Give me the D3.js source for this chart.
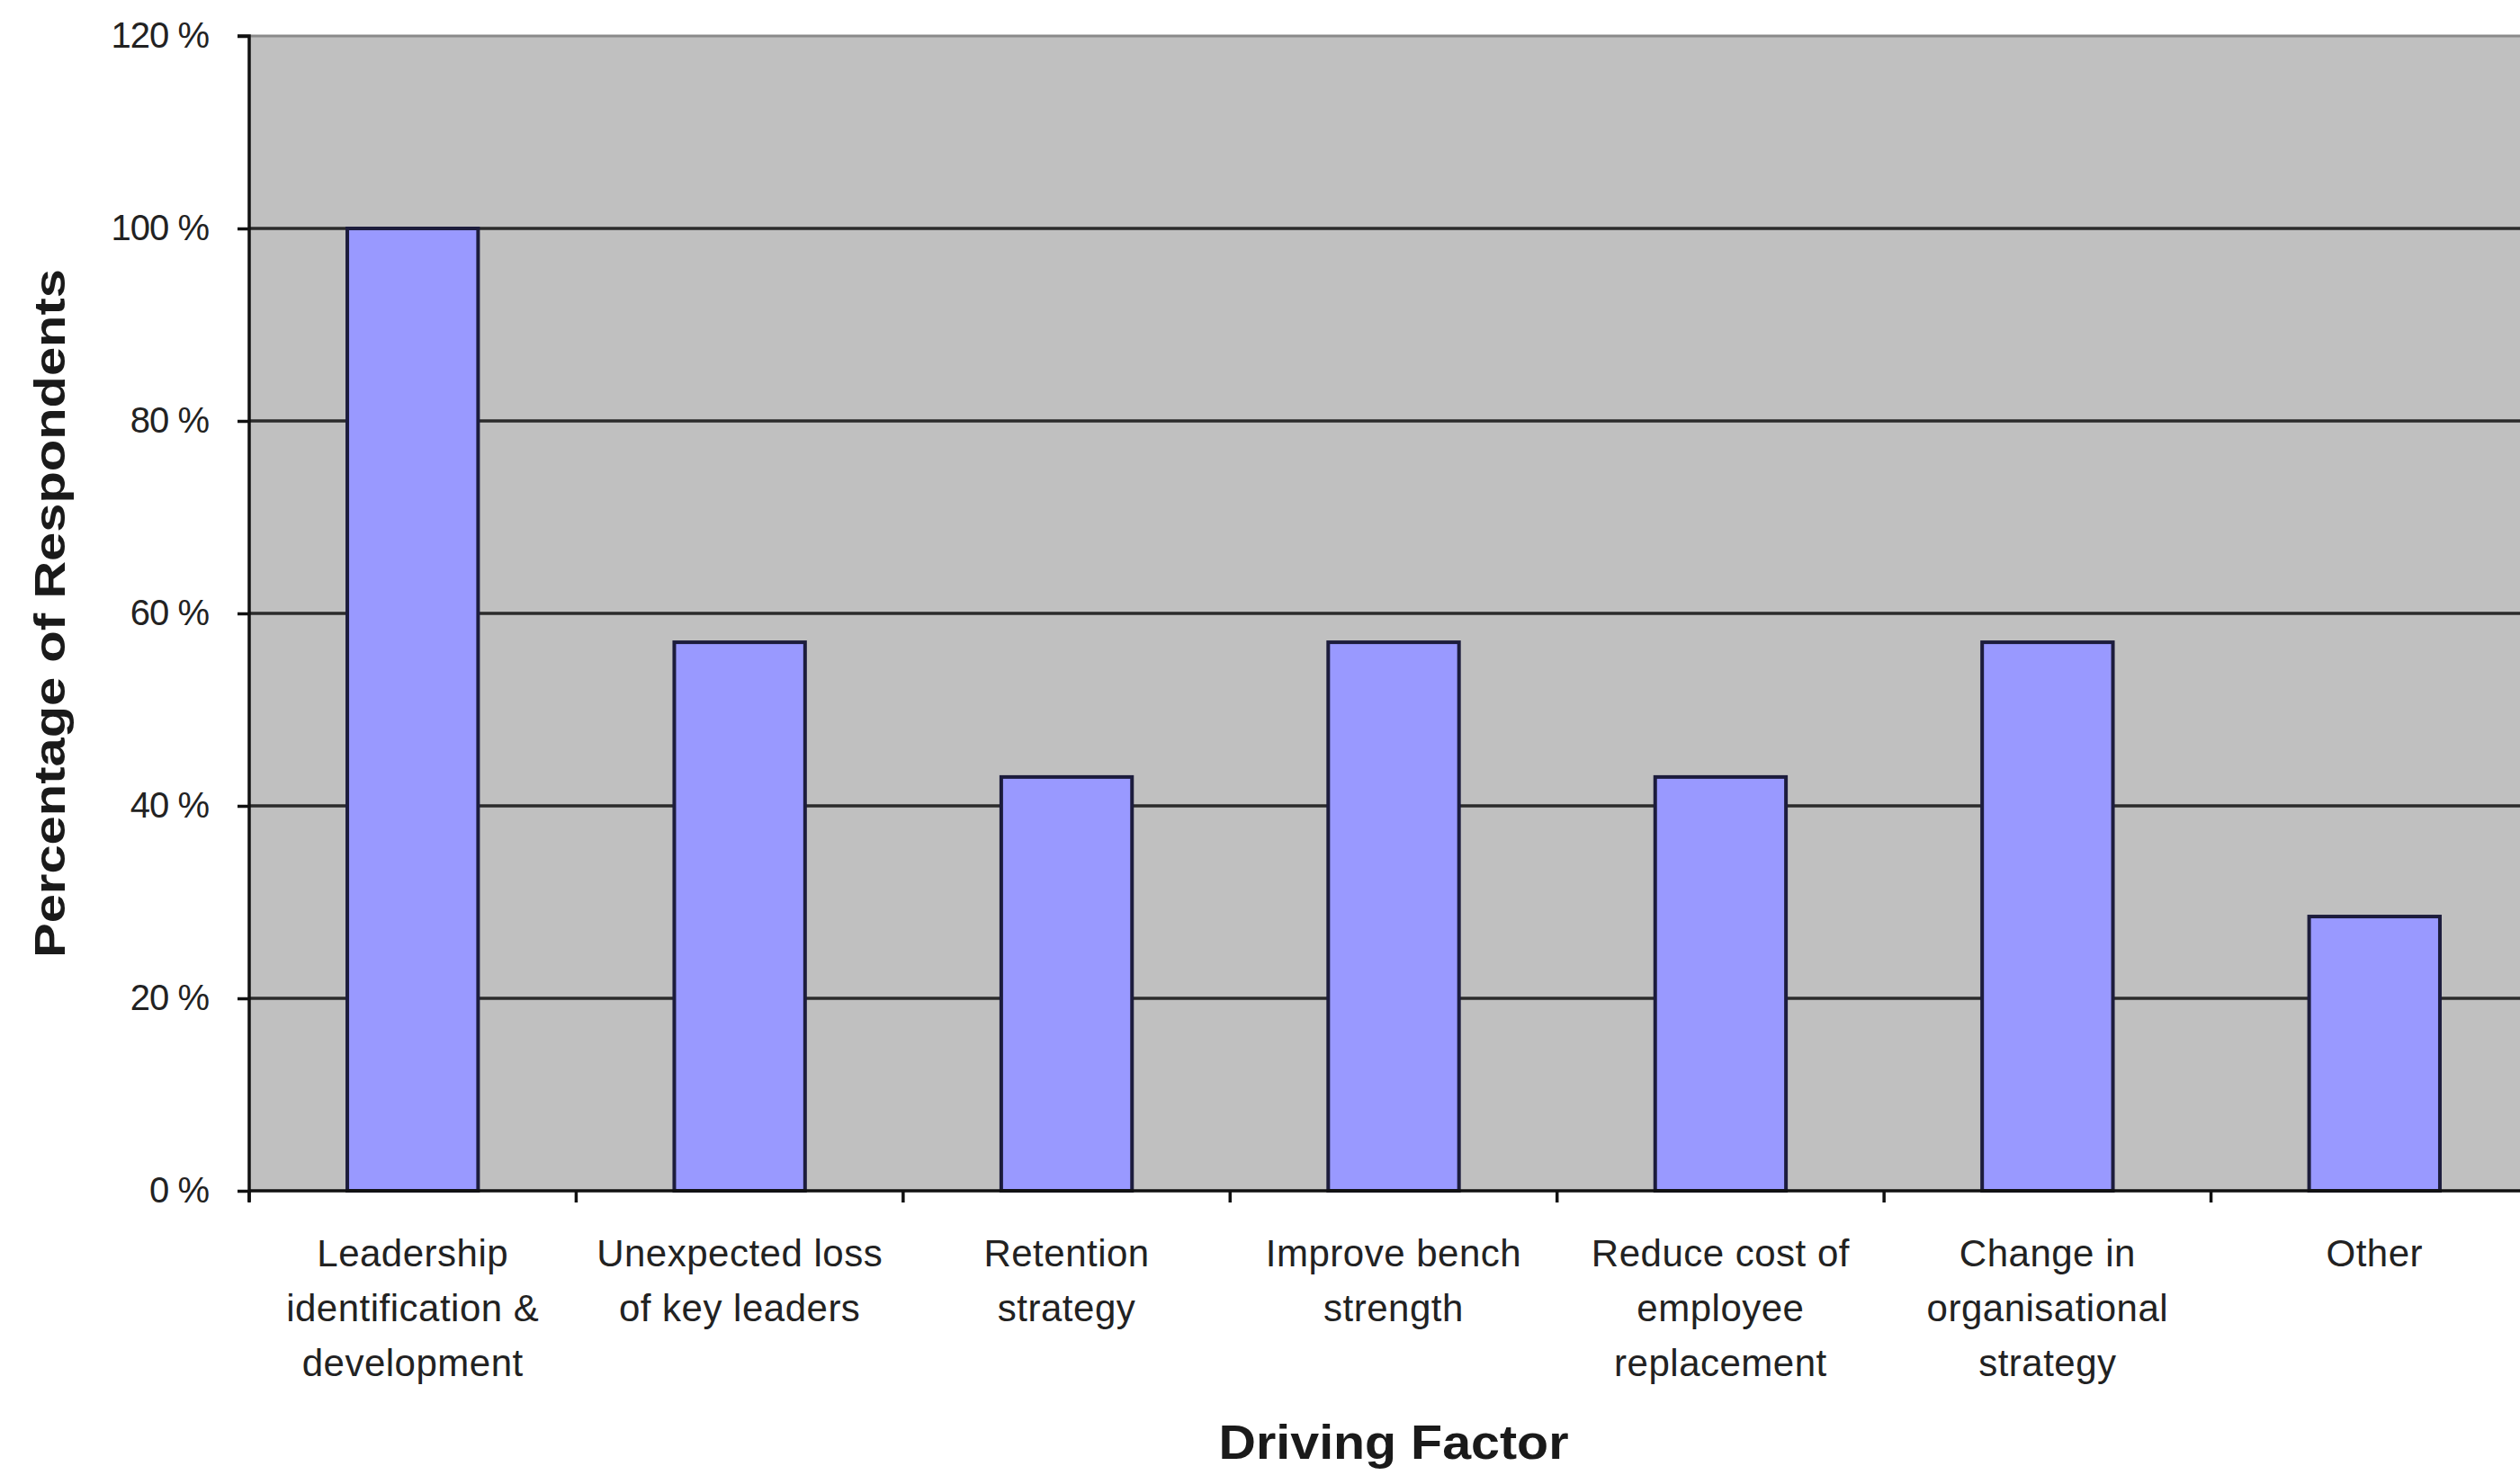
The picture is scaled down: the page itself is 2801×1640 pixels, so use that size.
<!DOCTYPE html>
<html>
<head>
<meta charset="utf-8">
<script src="https://cdn.jsdelivr.net/npm/d3@7"></script>
<style>
  html, body { margin: 0; padding: 0; background: #ffffff; }
  svg { display: block; }
</style>
</head>
<body>
<script>
const categories = [
  ["Leadership", "identification &", "development"],
  ["Unexpected loss", "of key leaders"],
  ["Retention", "strategy"],
  ["Improve bench", "strength"],
  ["Reduce cost of", "employee", "replacement"],
  ["Change in", "organisational", "strategy"],
  ["Other"]
];
const values = [100, 57, 43, 57, 43, 57, 28.5];
const yTicks = [0, 20, 40, 60, 80, 100, 120];
const yTitle = "Percentage of Respondents";
const xTitle = "Driving Factor";

const W = 2801, H = 1640;
const pLeft = 277, pTop = 40, pBottom = 1324, pRight = 2821;

const svg = d3.select("body").append("svg")
  .attr("width", W).attr("height", H)
  .style("font-family", "'Liberation Sans', Arial, sans-serif");

const x = d3.scaleBand()
  .domain(d3.range(categories.length))
  .range([pLeft, pRight])
  .paddingInner(0.6)
  .paddingOuter(0.3);

const y = d3.scaleLinear().domain([0, 120]).range([pBottom, pTop]);

// plot background
svg.append("rect")
  .attr("x", pLeft).attr("y", pTop)
  .attr("width", pRight - pLeft).attr("height", pBottom - pTop)
  .attr("fill", "#c0c0c0");

// top border
svg.append("line")
  .attr("x1", pLeft).attr("x2", pRight)
  .attr("y1", y(120)).attr("y2", y(120))
  .attr("stroke", "#8a8a8a").attr("stroke-width", 3);

// gridlines
svg.append("g")
  .selectAll("line")
  .data(yTicks.filter(d => d > 0 && d < 120))
  .join("line")
  .attr("x1", pLeft).attr("x2", pRight)
  .attr("y1", d => y(d)).attr("y2", d => y(d))
  .attr("stroke", "#2b2b2b").attr("stroke-width", 3.5);

// bars
svg.append("g")
  .selectAll("rect")
  .data(values)
  .join("rect")
  .attr("x", (d, i) => x(i))
  .attr("y", d => y(d))
  .attr("width", x.bandwidth())
  .attr("height", d => pBottom - y(d))
  .attr("fill", "#9999ff")
  .attr("stroke", "#1c1c3c")
  .attr("stroke-width", 4);

// y axis
const yAxis = d3.axisLeft(y)
  .tickValues(yTicks)
  .tickSize(13)
  .tickPadding(32)
  .tickFormat(d => d + " %");
const gy = svg.append("g").attr("transform", `translate(${pLeft},0)`).call(yAxis);
gy.select(".domain").attr("stroke", "#111").attr("stroke-width", 3.5)
  .attr("d", `M-13,${pTop}H0V${pBottom + 12}`);
gy.selectAll(".tick line").attr("stroke", "#111").attr("stroke-width", 3.5);
gy.selectAll(".tick text")
  .attr("font-size", 40)
  .attr("fill", "#222")
  .attr("font-family", "'Liberation Sans', Arial, sans-serif")
  .style("letter-spacing", "-1px");

// x axis (baseline + boundary ticks)
svg.append("line")
  .attr("x1", pLeft).attr("x2", pRight)
  .attr("y1", pBottom).attr("y2", pBottom)
  .attr("stroke", "#111").attr("stroke-width", 3.5);
const boundaries = d3.range(categories.length + 1).map(i => pLeft + i * x.step());
svg.append("g")
  .selectAll("line")
  .data(boundaries)
  .join("line")
  .attr("x1", d => d).attr("x2", d => d)
  .attr("y1", pBottom).attr("y2", pBottom + 13)
  .attr("stroke", "#111").attr("stroke-width", 3.5);

// category labels
const lab = svg.append("g")
  .selectAll("text")
  .data(categories)
  .join("text")
  .attr("text-anchor", "middle")
  .attr("font-size", 42)
  .attr("fill", "#222")
  .style("letter-spacing", "0.5px");
lab.each(function(lines, i) {
  const cx = x(i) + x.bandwidth() / 2;
  d3.select(this).selectAll("tspan")
    .data(lines)
    .join("tspan")
    .attr("x", cx)
    .attr("y", (d, j) => 1408 + j * 61)
    .text(d => d);
});

// axis titles
svg.append("text")
  .attr("x", (pLeft + pRight) / 2)
  .attr("y", 1622)
  .attr("text-anchor", "middle")
  .attr("font-size", 54)
  .attr("font-weight", "bold")
  .attr("fill", "#1a1a1a")
  .attr("textLength", 389)
  .attr("lengthAdjust", "spacingAndGlyphs")
  .text(xTitle);

svg.append("text")
  .attr("transform", `translate(72,${(pTop + pBottom) / 2}) rotate(-90)`)
  .attr("text-anchor", "middle")
  .attr("font-size", 48)
  .attr("font-weight", "bold")
  .attr("fill", "#1a1a1a")
  .attr("textLength", 766)
  .attr("lengthAdjust", "spacingAndGlyphs")
  .text(yTitle);
</script>
</body>
</html>
